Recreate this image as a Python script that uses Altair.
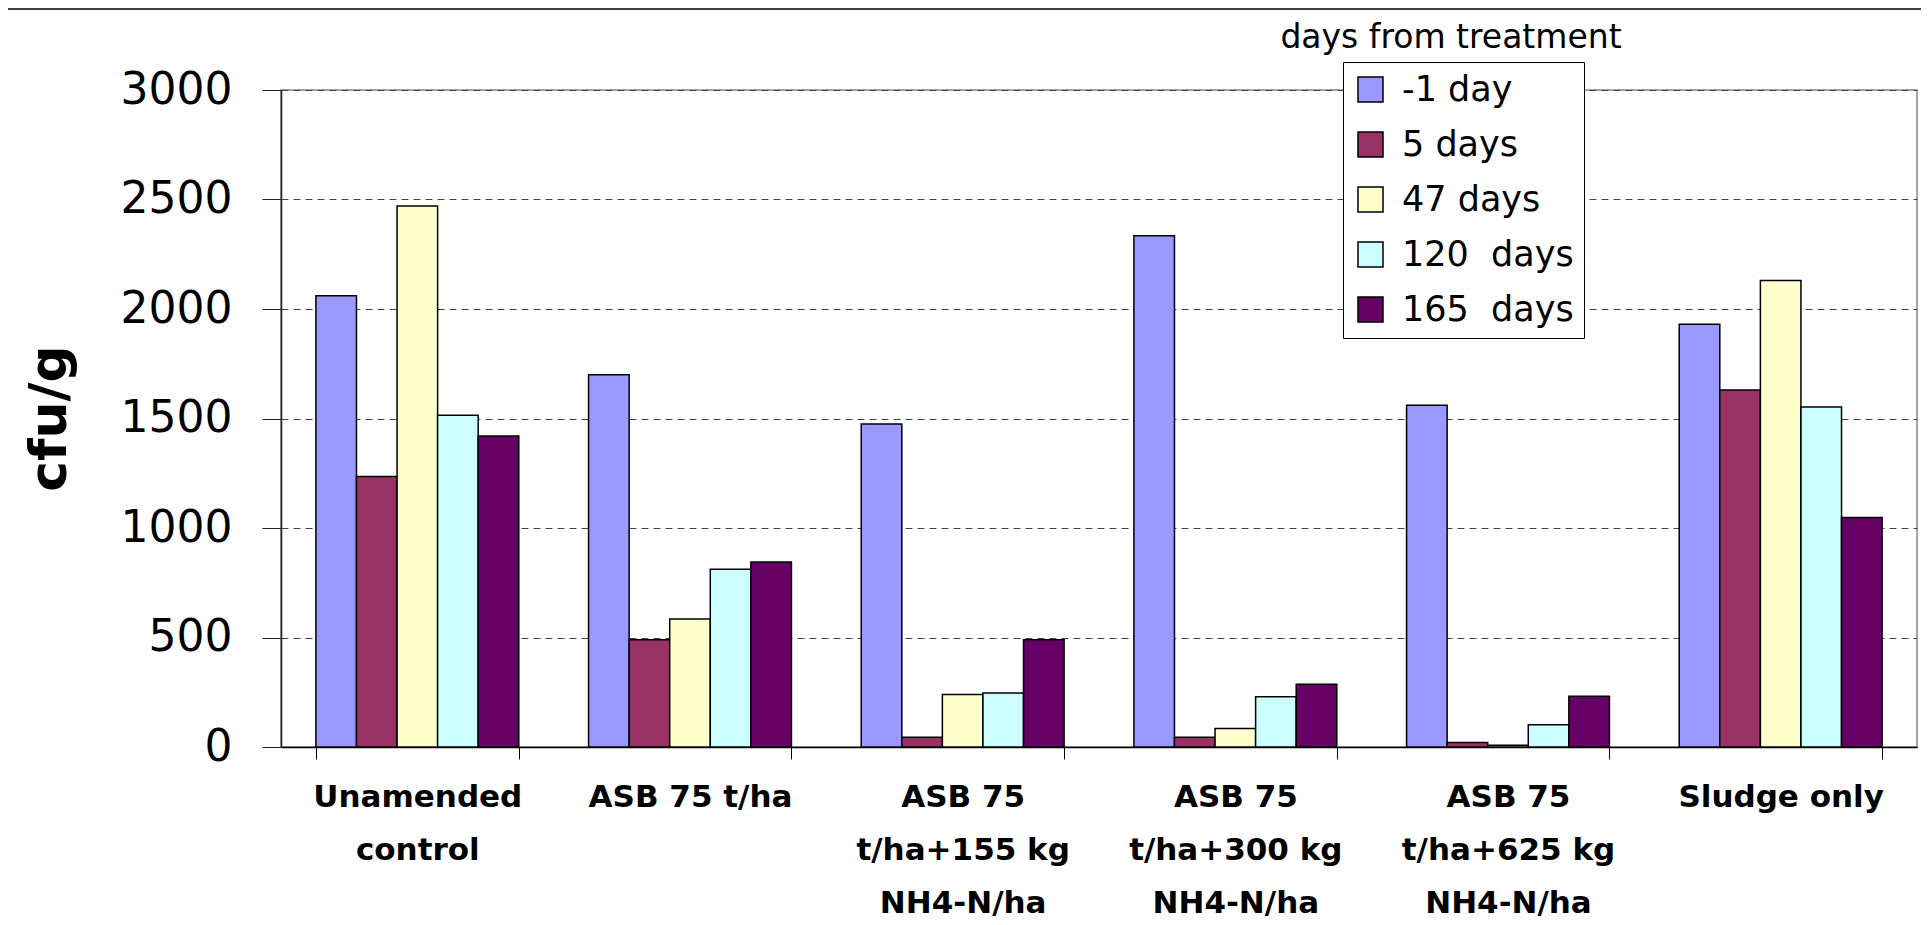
import altair as alt
import pandas as pd

# ---- data ----
CATEGORIES = [
    "Unamended\ncontrol",
    "ASB 75 t/ha",
    "ASB 75\nt/ha+155 kg\nNH4-N/ha",
    "ASB 75\nt/ha+300 kg\nNH4-N/ha",
    "ASB 75\nt/ha+625 kg\nNH4-N/ha",
    "Sludge only",
]
SERIES = ["-1 day", "5 days", "47 days", "120\u00a0 days", "165\u00a0 days"]
COLORS = ["#9999FF", "#993366", "#FFFFCC", "#CCFFFF", "#660066"]

DAY_MINUS1 = [2060, 1700, 1475, 2335, 1560, 1930]
DAY_5 = [1235, 490, 45, 45, 20, 1630]
DAY_47 = [2470, 585, 240, 85, 8, 2130]
DAY_120 = [1515, 812, 247, 230, 102, 1552]
DAY_165 = [1420, 845, 490, 287, 232, 1048]

Y_TICKS = [0, 500, 1000, 1500, 2000, 2500, 3000]
Y_TITLE = "cfu/g"
LEGEND_TITLE = "days from treatment"

FONT = "DejaVu Sans"

rows = []
for s, vals in zip(SERIES, [DAY_MINUS1, DAY_5, DAY_47, DAY_120, DAY_165]):
    for c, v in zip(CATEGORIES, vals):
        rows.append({"treatment": c, "series": s, "value": v})
df = pd.DataFrame(rows)

bars = alt.Chart(df).mark_bar(stroke="black", strokeWidth=1.5).encode(
    x=alt.X(
        "treatment:N",
        sort=CATEGORIES,
        scale=alt.Scale(paddingInner=0.256, paddingOuter=0.128),
        axis=alt.Axis(
            title=None,
            labelAngle=0,
            labelFont=FONT,
            labelFontWeight="bold",
            labelFontSize=31,
            labelColor="black",
            labelLineHeight=53,
            labelExpr="split(datum.label, '\\n')",
            labelLimit=500,
            labelPadding=23,
            tickBand="extent",
            tickSize=12,
            tickColor="black",
            domainColor="black",
            domainWidth=1.5,
            grid=False,
        ),
    ),
    xOffset=alt.XOffset("series:N", sort=SERIES),
    y=alt.Y(
        "value:Q",
        scale=alt.Scale(domain=[0, 3000], nice=False),
        axis=alt.Axis(
            title=Y_TITLE,
            titleFont=FONT,
            titleFontSize=52,
            titleFontWeight="bold",
            titleColor="black",
            titleAngle=270,
            titleAlign="center",
            titleBaseline="middle",
            titleX=-232,
            titleY=328,
            values=Y_TICKS,
            format="d",
            labelFont=FONT,
            labelFontSize=44,
            labelColor="black",
            labelPadding=30,
            tickSize=19,
            tickColor="#222",
            domainColor="#222",
            domainWidth=1.5,
            grid=True,
            gridDash=[7, 5],
            gridColor="#444",
            gridWidth=1,
        ),
    ),
    color=alt.Color(
        "series:N",
        sort=SERIES,
        scale=alt.Scale(domain=SERIES, range=COLORS),
        legend=alt.Legend(
            title=None,
            orient="none",
            legendX=1062,
            legendY=-28,
            direction="vertical",
            fillColor="white",
            strokeColor="black",
            padding=10,
            symbolType="square",
            symbolSize=625,
            symbolStrokeColor="black",
            symbolStrokeWidth=1.5,
            symbolOpacity=1,
            labelFont=FONT,
            labelFontSize=35,
            labelColor="black",
            labelOffset=14,
            labelLimit=500,
            rowPadding=19,
        ),
    ),
)

title_df = pd.DataFrame({"t": [LEGEND_TITLE]})
legend_title = alt.Chart(title_df).mark_text(
    font=FONT, fontSize=33, color="black", align="center", baseline="middle"
).encode(text="t:N", x=alt.value(1170), y=alt.value(-52))

top_line = alt.Chart(title_df).mark_rule(color="black", strokeWidth=1.5).encode(
    x=alt.value(-273), x2=alt.value(1650), y=alt.value(-81)
)

chart = (
    alt.layer(bars, legend_title, top_line)
    .properties(
        width=1636,
        height=657,
        autosize=alt.AutoSizeParams(type="none"),
        padding={"left": 273, "top": 82, "right": 4, "bottom": 176},
        background="white",
    )
    .configure_view(stroke="#888", strokeWidth=1.5)
)

chart.save("out.html", embed_options={"renderer": "svg", "actions": False})
